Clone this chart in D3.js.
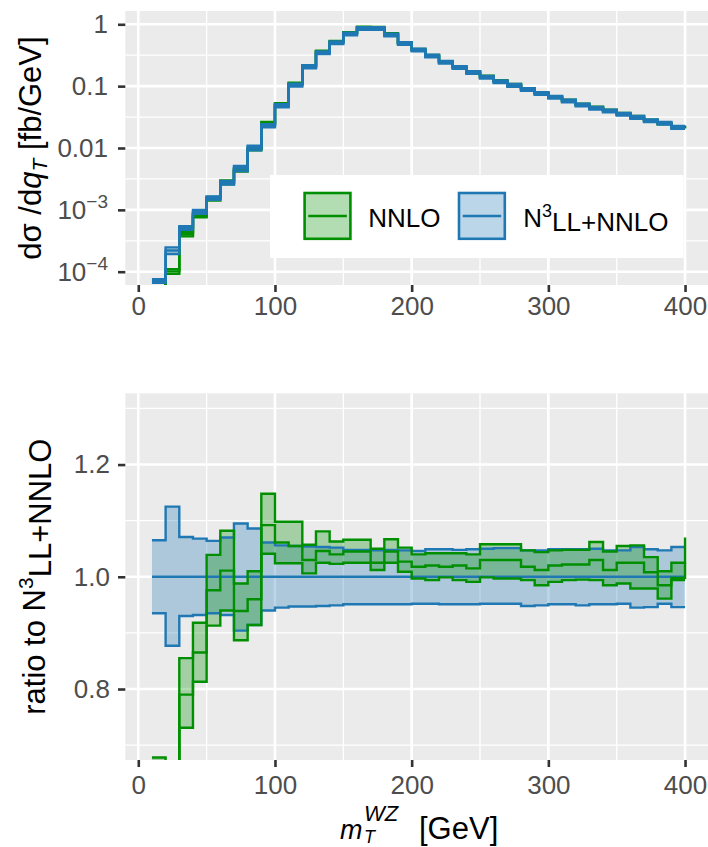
<!DOCTYPE html>
<html><head><meta charset="utf-8">
<script src="https://cdn.jsdelivr.net/npm/d3@7/dist/d3.min.js"></script>
<style>body{margin:0;background:#fff} svg{display:block}</style>
</head><body><div id="chart"></div>
<script>
// ---------------- DATA ----------------
// bin edges (GeV); value i applies from edge i to edge i+1, last value is the end point at 400
const binEdges = [10,20,30,40,50,60,70,80,90,100,110,120,130,140,150,160,170,180,190,200,
  210,220,230,240,250,260,270,280,290,300,310,320,330,340,350,360,370,380,390,400];
// N3LL+NNLO central distribution [fb/GeV]
const n3llCentral = [7.1e-5,2.2e-4,5.1e-4,9.3e-4,1.55e-3,2.75e-3,4.7e-3,0.0100,0.0229,0.0483,
  0.104,0.206,0.347,0.504,0.70,0.86,0.86,0.67,0.49,0.384,
  0.307,0.243,0.201,0.167,0.139,0.118,0.103,0.0887,0.0765,0.066,
  0.0575,0.0496,0.0438,0.0397,0.0351,0.0313,0.0277,0.0251,0.0216,0.0216];
// N3LL+NNLO uncertainty band, ratio to its central value
const n3llHi = [1.065,1.125,1.071,1.068,1.064,1.070,1.095,1.086,1.061,1.056,
  1.055,1.054,1.053,1.052,1.048,1.048,1.047,1.048,1.047,1.046,
  1.049,1.049,1.048,1.049,1.050,1.051,1.051,1.047,1.047,1.049,
  1.049,1.049,1.050,1.047,1.047,1.053,1.049,1.047,1.053,1.053];
const n3llLo = [0.935,0.877,0.930,0.932,0.935,0.932,0.904,0.914,0.940,0.945,
  0.947,0.947,0.948,0.949,0.951,0.951,0.951,0.951,0.951,0.952,
  0.952,0.951,0.951,0.951,0.952,0.952,0.952,0.948,0.949,0.951,
  0.951,0.949,0.951,0.951,0.952,0.945,0.946,0.952,0.946,0.946];
// NNLO, ratio to N3LL+NNLO central
const nnloHi = [0.678,0.50,0.855,0.918,1.039,1.082,0.988,1.010,1.148,1.098,
  1.098,1.057,1.081,1.063,1.066,1.066,1.050,1.067,1.052,1.040,
  1.042,1.042,1.042,1.040,1.058,1.058,1.058,1.047,1.044,1.047,
  1.048,1.048,1.062,1.045,1.055,1.056,1.035,1.010,1.025,1.070];
const nnloMid = [0.66,0.46,0.790,0.865,0.976,1.011,0.939,0.960,1.092,1.061,
  1.055,1.030,1.046,1.040,1.045,1.045,1.025,1.045,1.027,1.018,
  1.020,1.018,1.020,1.015,1.030,1.030,1.030,1.018,1.012,1.020,
  1.022,1.022,1.030,1.012,1.025,1.025,1.008,0.985,0.998,1.025];
const nnloLo = [0.64,0.42,0.731,0.813,0.913,0.940,0.887,0.914,1.041,1.024,
  1.024,1.006,1.025,1.023,1.025,1.025,1.012,1.025,1.009,0.997,
  0.994,0.999,0.994,0.991,0.999,0.997,0.997,0.994,0.985,0.991,
  0.994,0.995,0.994,0.985,0.988,0.979,0.979,0.961,0.994,0.994];

const xTicks = [0,100,200,300,400];
const xMinor = [50,150,250,350];
const topTicks = [1,0.1,0.01,1e-3,1e-4];
const topTickLabels = [["1"],["0.1"],["0.01"],["10","\u22123"],["10","\u22124"]];
const topMinor = [Math.pow(10,-0.5),Math.pow(10,-1.5),Math.pow(10,-2.5),Math.pow(10,-3.5)];
const ratioTicks = [0.8,1.0,1.2];
const ratioMinor = [0.7,0.9,1.1,1.3];
const seriesNames = ["NNLO","N3LL+NNLO"];

// ---------------- STYLE ----------------
const W=708,H=847;
const GREEN="#008F00", BLUE="#1F78B4";
const FONT="'Liberation Sans', Arial, Helvetica, sans-serif";
const TICKFS=26;
const svg=d3.select("#chart").append("svg").attr("width",W).attr("height",H)
  .style("font-family",FONT);

const x=d3.scaleLinear().domain([-9.5,419.5]).range([125.3,711.7]);
const yTop=d3.scaleLog().domain([Math.pow(10,-4.215),Math.pow(10,0.215)]).range([285,11]);
const yR=d3.scaleLinear().domain([0.6735,1.327]).range([760,393.3]);

function panel(y, top, bottom, hMajor, hMinor, id){
  const g=svg.append("g");
  g.append("rect").attr("x",x.range()[0]).attr("y",top).attr("width",x.range()[1]-x.range()[0])
    .attr("height",bottom-top).attr("fill","#EBEBEB");
  hMinor.forEach(v=>g.append("line").attr("x1",x.range()[0]).attr("x2",x.range()[1])
    .attr("y1",y(v)).attr("y2",y(v)).attr("stroke","#fff").attr("stroke-width",1.3));
  xMinor.forEach(v=>g.append("line").attr("x1",x(v)).attr("x2",x(v))
    .attr("y1",top).attr("y2",bottom).attr("stroke","#fff").attr("stroke-width",1.3));
  hMajor.forEach(v=>g.append("line").attr("x1",x.range()[0]).attr("x2",x.range()[1])
    .attr("y1",y(v)).attr("y2",y(v)).attr("stroke","#fff").attr("stroke-width",2.6));
  xTicks.forEach(v=>g.append("line").attr("x1",x(v)).attr("x2",x(v))
    .attr("y1",top).attr("y2",bottom).attr("stroke","#fff").attr("stroke-width",2.6));
  svg.append("clipPath").attr("id",id).append("rect").attr("x",x.range()[0]).attr("y",top)
    .attr("width",x.range()[1]-x.range()[0]).attr("height",bottom-top);
  return svg.append("g").attr("clip-path",`url(#${id})`);
}

function styleAxis(g, fs){
  g.select(".domain").remove();
  g.selectAll(".tick line").attr("stroke","#333333").attr("stroke-width",2.6);
  g.selectAll(".tick text").attr("fill","#4D4D4D").attr("font-size",fs).attr("font-family",FONT);
}

function drawBand(g,y,lo,hi,col,scaleFn){
  const area=d3.area().curve(d3.curveStepAfter).x(d=>x(d.x))
    .y0(d=>y(scaleFn(d.lo,d.i))).y1(d=>y(scaleFn(d.hi,d.i)));
  const data=binEdges.map((e,i)=>({x:e,lo:lo[i],hi:hi[i],i:i}));
  g.append("path").datum(data).attr("d",area).attr("fill",col).attr("fill-opacity",0.3);
}
function drawLines(g,y,arrs,col,scaleFn){
  arrs.forEach(a=>{
    const line=d3.line().curve(d3.curveStepAfter).x(d=>x(d.x)).y(d=>y(scaleFn(d.v,d.i)));
    g.append("path").datum(binEdges.map((e,i)=>({x:e,v:a[i],i:i}))).attr("d",line)
      .attr("fill","none").attr("stroke",col).attr("stroke-width",2.4).attr("stroke-linejoin","miter");
  });
}
const ones = binEdges.map(()=>1);
const abs=(r,i)=>r*n3llCentral[i];
const rel=(r,i)=>r;

// ---------------- TOP PANEL ----------------
const gTop=panel(yTop,11,285,topTicks,topMinor,"clipTop");
drawBand(gTop,yTop,nnloLo,nnloHi,GREEN,abs);
drawLines(gTop,yTop,[nnloLo,nnloHi,nnloMid],GREEN,abs);
drawBand(gTop,yTop,n3llLo,n3llHi,BLUE,abs);
drawLines(gTop,yTop,[n3llLo,n3llHi,ones],BLUE,abs);

const axTopX=svg.append("g").attr("transform","translate(0,285)")
  .call(d3.axisBottom(x).tickValues(xTicks).tickSize(7).tickPadding(5).tickFormat(d3.format("d")));
styleAxis(axTopX,TICKFS);
const axTopY=svg.append("g").attr("transform","translate(125.3,0)")
  .call(d3.axisLeft(yTop).tickValues(topTicks).tickSize(7.3).tickPadding(10).tickFormat(""));
styleAxis(axTopY,TICKFS);
axTopY.selectAll(".tick text").each(function(d,i){
  const t=d3.select(this); const lab=topTickLabels[i];
  t.text(null);
  t.append("tspan").text(lab[0]);
  if(lab.length>1) t.append("tspan").attr("dy","-0.55em").attr("font-size",19).text(lab[1]);
});

// legend
const lg=svg.append("g");
lg.append("rect").attr("x",270).attr("y",175).attr("width",413.5).attr("height",83).attr("fill","#fff");
const keys=[{col:GREEN,kx:303.3},{col:BLUE,kx:457.7}];
keys.forEach(k=>{
  lg.append("rect").attr("x",k.kx+1.3).attr("y",193).attr("width",45.8).attr("height",45.8)
    .attr("fill",k.col).attr("fill-opacity",0.3);
  lg.append("rect").attr("x",k.kx+1.3).attr("y",193).attr("width",45.8).attr("height",45.8)
    .attr("fill","none").attr("stroke",k.col).attr("stroke-width",2.6);
  lg.append("line").attr("x1",k.kx+5).attr("x2",k.kx+43.5).attr("y1",216).attr("y2",216)
    .attr("stroke",k.col).attr("stroke-width",2.6);
});
lg.append("text").attr("x",368.3).attr("y",227).attr("font-size",26).attr("fill","#000").text(seriesNames[0]);
const t2=lg.append("text").attr("x",523.3).attr("y",227).attr("font-size",26).attr("fill","#000");
t2.append("tspan").text("N");
t2.append("tspan").attr("dy","-0.55em").attr("font-size",18).text("3");
t2.append("tspan").attr("dy","0.55em").text("LL+NNLO");

// top y title
const tt=svg.append("text").attr("transform","translate(41,148) rotate(-90)")
  .attr("text-anchor","middle").attr("font-size",31).attr("fill","#000");
tt.append("tspan").text("d\u03C3 /d");
tt.append("tspan").attr("font-style","italic").text("q");
tt.append("tspan").attr("font-style","italic").attr("font-size",21).attr("dy","0.3em").text("T");
tt.append("tspan").attr("dy","-0.2em").text(" [fb/GeV]");

// ---------------- RATIO PANEL ----------------
const gR=panel(yR,393.3,760,ratioTicks,ratioMinor,"clipR");
drawBand(gR,yR,n3llLo,n3llHi,BLUE,rel);
drawBand(gR,yR,nnloLo,nnloHi,GREEN,rel);
drawLines(gR,yR,[n3llLo,n3llHi,ones],BLUE,rel);
drawLines(gR,yR,[nnloLo,nnloHi,nnloMid],GREEN,rel);

const axRX=svg.append("g").attr("transform","translate(0,760)")
  .call(d3.axisBottom(x).tickValues(xTicks).tickSize(7).tickPadding(8.5).tickFormat(d3.format("d")));
styleAxis(axRX,TICKFS);
const axRY=svg.append("g").attr("transform","translate(125.3,0)")
  .call(d3.axisLeft(yR).tickValues(ratioTicks).tickSize(7.3).tickPadding(8).tickFormat(d3.format(".1f")));
styleAxis(axRY,TICKFS);

const rt=svg.append("text").attr("transform","translate(45,576.7) rotate(-90)")
  .attr("text-anchor","middle").attr("font-size",31).attr("fill","#000");
rt.append("tspan").text("ratio to N");
rt.append("tspan").attr("dy","-0.55em").attr("font-size",21).text("3");
rt.append("tspan").attr("dy","0.55em").text("LL+NNLO");

// x title
svg.append("text").attr("x",340).attr("y",839).attr("font-size",27).attr("font-style","italic").text("m");
svg.append("text").attr("x",364).attr("y",821).attr("font-size",22).attr("font-style","italic").text("WZ");
svg.append("text").attr("x",364).attr("y",842.5).attr("font-size",18).attr("font-style","italic").text("T");
svg.append("text").attr("x",419).attr("y",839).attr("font-size",31).text("[GeV]");
</script></body></html>
